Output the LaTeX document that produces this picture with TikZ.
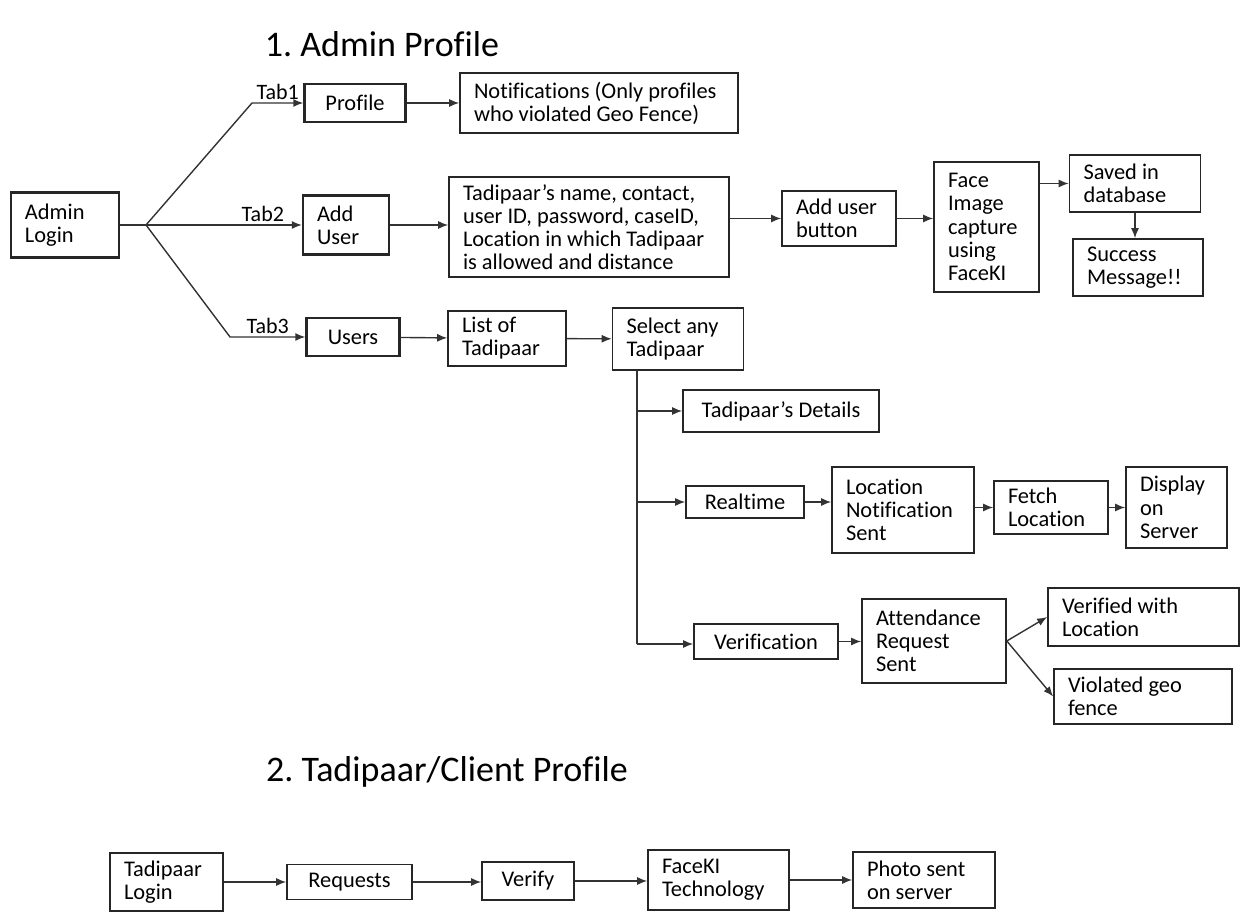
\documentclass[tikz,border=0pt]{standalone}
\usepackage{fontspec}
\setmainfont{Carlito}[Ligatures=NoCommon]
\usetikzlibrary{arrows.meta}

\tikzset{
  box/.style={draw=black!85, line width=0.8pt, inner xsep=7pt, inner ysep=2pt,
    font=\fontsize{11.2}{11.6}\selectfont, align=flush center},
  tbox/.style={box, line width=1.2pt},
  lbox/.style={box, align=flush left},
  title/.style={font=\fontsize{18}{21}\selectfont},
  tab/.style={above, inner sep=1.5pt, font=\fontsize{11}{12}\selectfont},
  flow/.style={->, draw=black!80, line width=0.7pt}
}

\begin{document}
\frenchspacing
\begin{tikzpicture}[x=0.5pt, y=-0.5pt, >={Latex[length=5pt,width=4pt]}]
        \useasboundingbox (0,0) rectangle (1244,924);

        % Titles
        \node[title] (T1) at (382,44) {1. Admin Profile};
        \node[title] (T2) at (447,772) {2. Tadipaar/Client Profile};

        % Admin part
        \node[tbox, minimum width=54pt, minimum height=32.5pt, text width=40pt, align=flush left] (login) at (65,225) {Admin\\Login};
        \node[tbox, minimum width=50.5pt, minimum height=19pt] (profile) at (355,103) {Profile};
        \node[tbox, minimum width=43pt, minimum height=29.5pt, text width=29pt, align=flush left] (adduser) at (346,225) {Add\\User};
        \node[tbox, minimum width=46.5pt, minimum height=19pt] (users) at (353,337) {Users};

        \node[lbox, minimum height=30pt, text width=125pt] (notif) at (599,103) {Notifications (Only profiles\\who violated Geo Fence)};
        \node[lbox, minimum height=50pt, text width=126pt] (fields) at (589,227) {Tadipaar’s name, contact,\\user ID, password, caseID,\\Location in which Tadipaar\\is allowed and distance};
        \node[lbox, minimum height=27.5pt, text width=43pt] (addbtn) at (839,218.5) {Add user\\button};
        \node[lbox, minimum height=65pt, text width=38.5pt] (face) at (986.5,227) {Face\\Image\\capture\\using\\FaceKI};
        \node[lbox, minimum height=28.5pt, text width=51.5pt] (saved) at (1135,183.5) {Saved in\\database};
        \node[lbox, minimum height=28.5pt, text width=51pt] (success) at (1138,267.5) {Success\\Message!!};

        \node[lbox, minimum height=27.5pt, text width=45pt] (list) at (507,338.5) {List of\\Tadipaar};
        \node[lbox, minimum height=31pt, text width=51.5pt] (select) at (678,339) {Select any\\Tadipaar};
        \node[box, minimum width=98pt, minimum height=21pt] (tdet) at (781,411) {Tadipaar’s Details};
        \node[box, minimum width=59pt, minimum height=16pt] (realtime) at (745,502) {Realtime};
        \node[lbox, minimum height=43pt, text width=57pt] (locnotif) at (903,510) {Location\\Notification\\Sent};
        \node[lbox, minimum height=26.5pt, text width=43pt] (fetch) at (1051,507.5) {Fetch\\Location};
        \node[lbox, minimum height=40.5pt, text width=36.5pt] (display) at (1176.5,507.5) {Display\\on\\Server};
        \node[box, minimum width=72pt, minimum height=17.5pt] (verif) at (766,641.5) {Verification};
        \node[lbox, minimum height=42pt, text width=58pt] (attend) at (934,641) {Attendance\\Request\\Sent};
        \node[lbox, minimum height=29pt, text width=81.5pt] (verloc) at (1143.5,617) {Verified with\\Location};
        \node[lbox, minimum height=27.5pt, text width=75pt] (violated) at (1143,696.5) {Violated geo\\fence};

        % Client part
        \node[lbox, minimum height=29pt, text width=42.5pt] (tlogin) at (166.5,882) {Tadipaar\\Login};
        \node[box, minimum width=62.5pt, minimum height=17.5pt] (requests) at (349.5,882) {Requests};
        \node[box, minimum width=46pt, minimum height=19pt] (verify) at (528,881) {Verify};
        \node[lbox, minimum height=30pt, text width=56.5pt] (faceki) at (718.5,880) {FaceKI\\Technology};
        \node[lbox, minimum height=28pt, text width=57pt] (photo) at (924,880) {Photo sent\\on server};

        % Bends
        \coordinate (br) at (146,225);
        \coordinate (t1) at (252,103);
        \coordinate (t3) at (230,337);
        \coordinate (trunk) at (637,644);

        % Tabs
        \draw[draw=black!80, line width=0.7pt] (login.east) -- (br);
        \draw[flow] (br) -- (t1) -- node[tab] {Tab1} (profile);
        \draw[flow] (br) -- node[tab, pos=0.75] {Tab2} (adduser);
        \draw[flow] (br) -- (t3) -- node[tab] {Tab3} (users);

        % Arrows
        \draw[flow] (profile) -- (notif);
        \draw[flow] (adduser) -- (adduser -| fields.west);
        \draw[flow] (fields.east |- addbtn) -- (addbtn);
        \draw[flow] (addbtn) -- (addbtn -| face.west);
        \draw[flow] (face.east |- saved) -- (saved);
        \draw[flow] (saved) -- (saved |- success.north);
        \draw[flow] (users) -- (list);
        \draw[flow] (list) -- (select);

        \draw[draw=black!80, line width=0.7pt] (select.south -| trunk) -- (trunk);
        \draw[flow] (tdet -| trunk) -- (tdet);
        \draw[flow] (realtime -| trunk) -- (realtime);
        \draw[flow] (trunk) -- (trunk -| verif.west);
        \draw[flow] (realtime) -- (realtime -| locnotif.west);
        \draw[flow] (locnotif.east |- fetch) -- (fetch);
        \draw[flow] (fetch) -- (display);
        \draw[flow] (verif) -- (verif -| attend.west);
        \draw[flow] (attend.east) -- (verloc.west);
        \draw[flow] (attend.east) -- (violated.west);

        \draw[flow] (tlogin) -- (tlogin -| requests.west);
        \draw[flow] (requests) -- (requests -| verify.west);
        \draw[flow] (verify) -- (verify -| faceki.west);
        \draw[flow] (faceki) -- (faceki -| photo.west);
    \end{tikzpicture}
\end{document}
